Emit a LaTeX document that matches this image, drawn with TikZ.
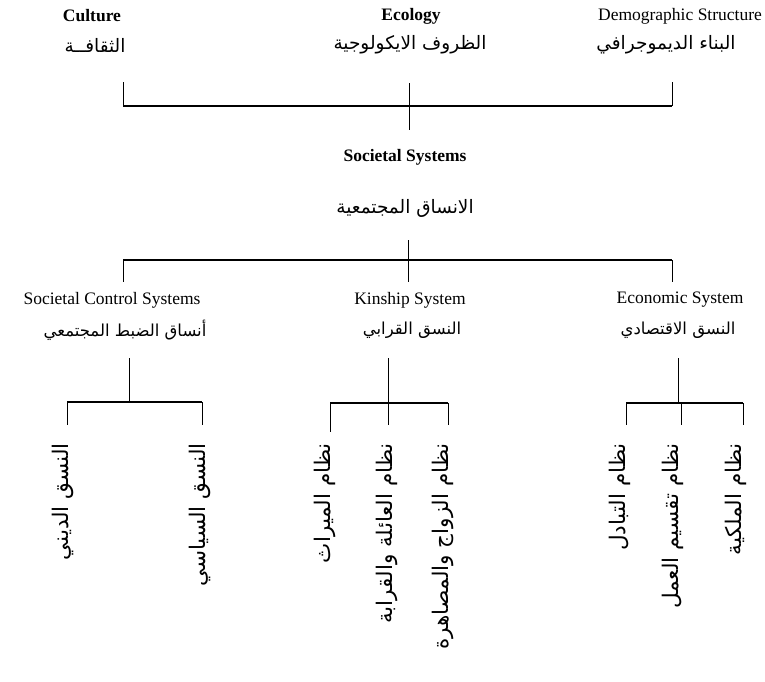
\documentclass[tikz,border=0pt]{standalone}
\usepackage{fontspec}
\setmainfont{Liberation Serif}
\newfontfamily\arabicfont[Script=Arabic]{DejaVu Sans}
\TeXXeTstate=1
\tikzset{
  en/.style={font=\fontsize{17.5}{20}\selectfont, inner sep=0pt},
  enb/.style={font=\fontsize{17.5}{20}\selectfont\bfseries, inner sep=0pt},
  ar/.style={font=\fontsize{16.5}{20}\selectfont\arabicfont, inner sep=0pt},
  artop/.style={ar, font=\fontsize{18.5}{22}\selectfont\arabicfont},
  arv/.style={ar, font=\fontsize{21.5}{24}\selectfont\arabicfont, rotate=90, anchor=east},
  hbar/.style={line width=2.4pt},
  stem/.style={line width=1pt}
}

\begin{document}
\begin{tikzpicture}[x=1pt, y=-1pt]
        \useasboundingbox (0,0) rectangle (765,681);
        % top row
        \node[enb] (culture) at (92,16) {Culture};
        \node[artop] (culture-ar) at (95,45) {\beginR الثقافــة\endR};
        \node[enb] (ecology) at (411,16) {Ecology};
        \node[artop] (ecology-ar) at (410,45) {\beginR الظروف الايكولوجية\endR};
        \node[en] (demog) at (680,16) {Demographic Structure};
        \node[artop] (demog-ar) at (666,45) {\beginR البناء الديموجرافي\endR};
        % top bar
        \coordinate (cul) at (123,82);
        \coordinate (eco) at (409,83);
        \coordinate (dem) at (672,82);
        \coordinate (barL) at (123,106);
        \coordinate (barR) at (672,106);
        \coordinate (socin) at (409,130);
        \draw[hbar] (barL) -- (barR);
        \draw[stem] (cul) -- (barL);
        \draw[stem] (eco) -- (eco |- barL);
        \draw[stem] (dem) -- (barR);
        \draw[stem] (eco |- barL) -- (socin);
        % societal systems
        \node[enb] (soc) at (405,157) {Societal Systems};
        \node[artop] (soc-ar) at (405,208) {\beginR الانساق المجتمعية\endR};
        % middle bar
        \coordinate (socout) at (408,240);
        \coordinate (midL) at (123,260);
        \coordinate (midR) at (672,260);
        \draw[stem] (socout) -- (socout |- midL);
        \draw[hbar] (midL) -- (midR);
        \draw[stem] (midL) -- ++(0,22);
        \draw[stem] (socout |- midL) -- ++(0,22);
        \draw[stem] (midR) -- ++(0,22);
        % second row
        \node[en] (control) at (112,300) {Societal Control Systems};
        \node[ar] (control-ar) at (125,330) {\beginR أنساق الضبط المجتمعي\endR};
        \node[en] (kin) at (410,300) {Kinship System};
        \node[ar] (kin-ar) at (412,330) {\beginR النسق القرابي\endR};
        \node[en] (econ) at (680,300) {Economic System};
        \node[ar] (econ-ar) at (678,330) {\beginR النسق الاقتصادي\endR};
        % control group
        \coordinate (cg) at (129,358);
        \coordinate (cgL) at (67,402);
        \coordinate (cgR) at (202,402);
        \draw[stem] (cg) -- (cg |- cgL);
        \draw[hbar, line width=1.8pt] (cgL) -- (cgR);
        \draw[stem] (cgL) -- ++(0,23);
        \draw[stem] (cgR) -- ++(0,23);
        % kinship group
        \coordinate (kg) at (388,358);
        \coordinate (kgL) at (330,403);
        \coordinate (kgR) at (448,403);
        \draw[stem] (kg) -- (kg |- kgL);
        \draw[hbar, line width=1.8pt] (kgL) -- (kgR);
        \draw[stem] (kgL) -- ++(0,29);
        \draw[stem] (kg |- kgL) -- ++(0,22);
        \draw[stem] (kgR) -- ++(0,22);
        % economic group
        \coordinate (eg) at (678,358);
        \coordinate (egL) at (626,403);
        \coordinate (egR) at (743,403);
        \draw[stem] (eg) -- (eg |- egL);
        \draw[hbar, line width=1.8pt] (egL) -- (egR);
        \draw[stem] (egL) -- ++(0,22);
        \draw[stem] (681,403) -- ++(0,22);
        \draw[stem] (egR) -- ++(0,22);
        % bottom row
        \node[arv] (religion) at (63,443) {\beginR النسق الديني\endR};
        \node[arv] (politics) at (200,443) {\beginR النسق السياسي\endR};
        \node[arv] (inherit) at (325,443) {\beginR نظام الميراث\endR};
        \node[arv] (family) at (387,443) {\beginR نظام العائلة والقرابة\endR};
        \node[arv] (marriage) at (443,443) {\beginR نظام الزواج والمصاهرة\endR};
        \node[arv] (exchange) at (620,443) {\beginR نظام التبادل\endR};
        \node[arv] (labour) at (673,443) {\beginR نظام تقسيم العمل\endR};
        \node[arv] (property) at (736,443) {\beginR نظام الملكية\endR};
    \end{tikzpicture}
\end{document}
